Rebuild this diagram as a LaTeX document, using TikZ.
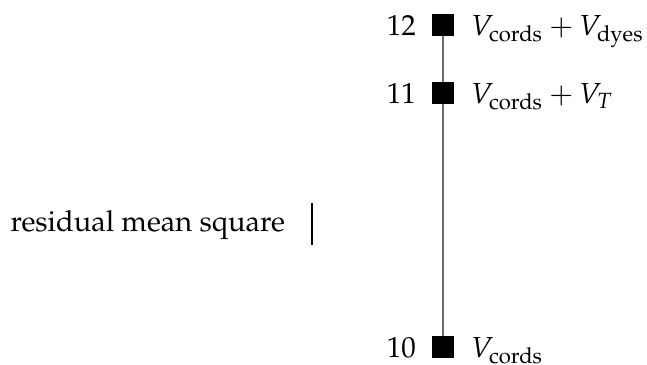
\documentclass[tikz,border=0pt]{standalone}
\usepackage[T1]{fontenc}
\usepackage{mathpazo}
\tikzset{
  msq/.style={draw=none, fill=black, minimum size=7pt, inner sep=0pt},
  numlbl/.style={anchor=base east, inner sep=0pt},
  vlbl/.style={anchor=base west, inner sep=0pt}
}
\begin{document}
\begin{tikzpicture}[x=0.345pt, y=-0.345pt]
  \useasboundingbox (0,0) rectangle (647,365);
  % squares on the line
  \node[msq] (s12) at (443,25) {};
  \node[msq] (s11) at (443,93) {};
  \node[msq] (s10) at (443,347) {};
  \draw[gray!85!black, line width=0.6pt] (s12) -- (s11) -- (s10);
  \fill[black] (s12.north west) rectangle (s12.south east);
  \fill[black] (s11.north west) rectangle (s11.south east);
  \fill[black] (s10.north west) rectangle (s10.south east);
  % numbers
  \node[numlbl] (n12) at ([xshift=-5.5pt]s12.south west) {12};
  \node[numlbl] (n11) at ([xshift=-5.5pt]s11.south west) {11};
  \node[numlbl] (n10) at ([xshift=-5.5pt]s10.south west) {10};
  % terms
  \node[vlbl] (t12) at ([xshift=5.8pt]s12.south east) {$V_{\mathrm{cords}}+V_{\mathrm{dyes}}$};
  \node[vlbl] (t11) at ([xshift=5.8pt]s11.south east) {$V_{\mathrm{cords}}+V_{T}$};
  \node[vlbl] (t10) at ([xshift=5.8pt]s10.south east) {$V_{\mathrm{cords}}$};
  % axis name
  \node[vlbl] (rms) at (10,232) {residual mean square};
  \coordinate (tka) at (312,203);
  \coordinate (tkb) at (312,245);
  \draw[line width=0.4pt] (tka) -- (tkb);
\end{tikzpicture}
\end{document}
